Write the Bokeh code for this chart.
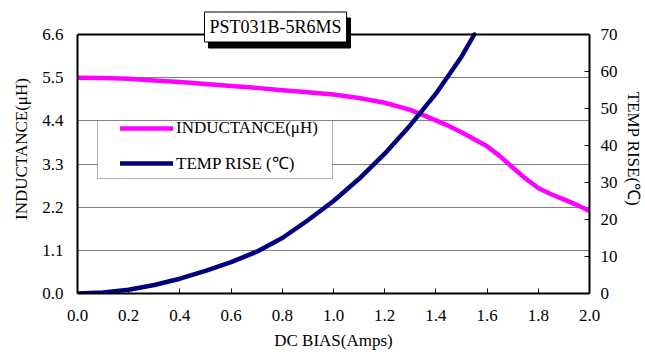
import numpy as np
from bokeh.plotting import figure
from bokeh.models import (Range1d, LinearAxis, FixedTicker, PrintfTickFormatter,
                          Legend, LegendItem, Label, BoxAnnotation, Span)
from bokeh.embed import file_html
from bokeh.resources import INLINE

# ---- data ----
dc_bias = [0.0, 0.1, 0.2, 0.3, 0.4, 0.5, 0.6, 0.7, 0.8, 0.9, 1.0,
           1.1, 1.2, 1.3, 1.4, 1.45, 1.5, 1.55, 1.6, 1.65, 1.7, 1.75,
           1.8, 1.85, 1.9, 1.95, 2.0]
inductance = [5.50, 5.49, 5.47, 5.43, 5.39, 5.34, 5.29, 5.24, 5.18, 5.13, 5.07,
              4.98, 4.86, 4.68, 4.41, 4.27, 4.11, 3.93, 3.75, 3.50, 3.21, 2.93,
              2.69, 2.53, 2.40, 2.26, 2.10]
temp_bias = [0.0, 0.1, 0.2, 0.3, 0.4, 0.5, 0.6, 0.7, 0.8, 0.9, 1.0,
             1.1, 1.2, 1.3, 1.4, 1.5, 1.55]
temp_rise = [0.0, 0.3, 1.0, 2.3, 4.0, 6.1, 8.5, 11.3, 15.0, 19.8, 25.0,
             31.0, 37.8, 45.5, 54.0, 64.0, 70.0]
left_ticks = [0.0, 1.1, 2.2, 3.3, 4.4, 5.5, 6.6]
right_ticks = [0, 10, 20, 30, 40, 50, 60, 70]
x_ticks = [0.0, 0.2, 0.4, 0.6, 0.8, 1.0, 1.2, 1.4, 1.6, 1.8, 2.0]

title_text = "PST031B-5R6MS"
x_title = "DC BIAS(Amps)"
left_title = "INDUCTANCE(\u03bcH)"
right_title = "TEMP RISE(\u2103)"
leg_l = "INDUCTANCE(\u03bcH)"
leg_t = "TEMP RISE (\u2103)"

FONT = "'Liberation Serif', 'Times New Roman', serif"
FS = "17px"

# layout: frame from y=4 to y=293; the chart box spans 0..6.6 (y=34..293)
FRAME_TOP, BOX_TOP, FRAME_BOTTOM = 4, 34, 293
L_MAX, T_MAX = left_ticks[-1], right_ticks[-1]
stretch = (FRAME_BOTTOM - FRAME_TOP) / (FRAME_BOTTOM - BOX_TOP)

p = figure(width=645, height=358, output_backend="svg", toolbar_location=None,
           x_range=Range1d(0, 2.0), y_range=Range1d(0, L_MAX * stretch),
           min_border_left=77, min_border_right=52, min_border_top=FRAME_TOP,
           min_border_bottom=358 - FRAME_BOTTOM, background_fill_color="white",
           border_fill_color="white")
p.extra_y_ranges = {"temp": Range1d(0, T_MAX * stretch)}
p.outline_line_color = None

# grid
p.xgrid.visible = False
p.ygrid.ticker = FixedTicker(ticks=left_ticks[:-1])
p.ygrid.grid_line_color = "#808080"
p.ygrid.grid_line_width = 1

# top border of the chart box
p.add_layout(Span(location=L_MAX, dimension="width", line_color="black",
                  line_width=2))

# curves
r_l = p.line(dc_bias, inductance, line_color="#FF00FF", line_width=4.5,
             line_join="round", line_cap="round")
r_t = p.line(temp_bias, temp_rise, line_color="#000080", line_width=4.5,
             line_join="round", line_cap="round", y_range_name="temp")

# axes
def style_axis(ax):
    ax.axis_line_color = "black"
    ax.axis_line_width = 2
    ax.major_tick_line_color = "black"
    ax.minor_tick_line_color = None
    ax.major_label_text_font = FONT
    ax.major_label_text_font_size = FS
    ax.major_label_text_color = "black"
    ax.axis_label_text_font = FONT
    ax.axis_label_text_font_size = FS
    ax.axis_label_text_font_style = "normal"
    ax.axis_label_text_color = "black"

xa = p.xaxis[0]
xa.ticker = FixedTicker(ticks=x_ticks)
xa.formatter = PrintfTickFormatter(format="%.1f")
style_axis(xa)
xa.major_tick_in = 5
xa.major_tick_out = 0
xa.major_label_standoff = 16
xa.axis_label = x_title
xa.axis_label_standoff = 7

ya = p.yaxis[0]
ya.ticker = FixedTicker(ticks=left_ticks)
ya.formatter = PrintfTickFormatter(format="%.1f")
ya.bounds = (0, L_MAX)
style_axis(ya)
ya.major_tick_in = 0
ya.major_tick_out = 0
ya.major_label_standoff = 14
ya.axis_label = left_title
ya.axis_label_standoff = 8

ra = LinearAxis(y_range_name="temp", ticker=FixedTicker(ticks=right_ticks),
                formatter=PrintfTickFormatter(format="%d"), bounds=(0, T_MAX))
style_axis(ra)
ra.major_tick_in = 5
ra.major_tick_out = 0
ra.major_label_standoff = 11
ra.axis_label = right_title
ra.axis_label_standoff = 3
p.add_layout(ra, "right")

# legend box and legend
p.add_layout(BoxAnnotation(left=20, right=255, bottom=115, top=173,
                           left_units="screen", right_units="screen",
                           top_units="screen", bottom_units="screen",
                           fill_color="white", fill_alpha=1.0,
                           line_color="black", line_width=1))
legend = Legend(items=[LegendItem(label=leg_l, renderers=[r_l]),
                       LegendItem(label=leg_t, renderers=[r_t])],
                location=(43, 119), padding=0, spacing=13, glyph_width=53,
                glyph_height=20, label_height=20, label_standoff=3,
                border_line_color=None, background_fill_alpha=0.0,
                label_text_font=FONT, label_text_font_size=FS,
                label_text_color="black", margin=0)
p.add_layout(legend, "center")

# title box with drop shadow
p.add_layout(Label(x=202, y=260.5, x_units="screen", y_units="screen",
                   text=title_text, text_align="center", text_baseline="middle",
                   text_font=FONT, text_font_size="18px", text_color="black",
                   background_fill_color="black", border_line_color="black",
                   padding=5))
p.add_layout(Label(x=198, y=266.5, x_units="screen", y_units="screen",
                   text=title_text, text_align="center", text_baseline="middle",
                   text_font=FONT, text_font_size="18px", text_color="black",
                   background_fill_color="white", border_line_color="black",
                   border_line_width=1, padding=5))

open("out.html", "w").write(file_html(p, INLINE))
